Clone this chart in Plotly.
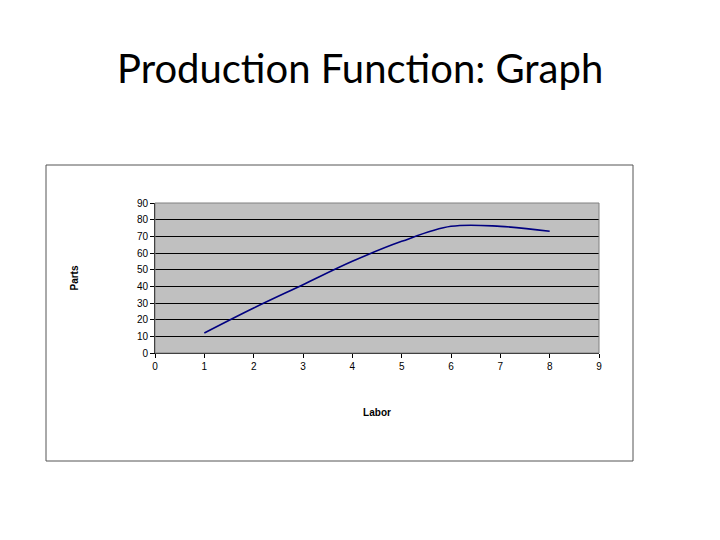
import plotly.graph_objects as go

# Production function data
labor = [1, 2, 3, 4, 5, 6, 7, 8]
parts = [12, 27, 41, 55, 67, 76, 76, 73]

TITLE = "Production Function: Graph"
X_LABEL = "Labor"
Y_LABEL = "Parts"

W, H = 720, 540
OFF = 8  # page body margin
# plot area in screen pixels
PX0, PX1, PY0, PY1 = 155, 599, 203, 353
# outer chart frame in screen pixels
BX0, BX1, BY0, BY1 = 46, 633, 165, 461


def px_to_paper_x(px):
    return (px - PX0) / (PX1 - PX0)


def px_to_paper_y(py):
    return (PY1 - py) / (PY1 - PY0)


fig = go.Figure(
    go.Scatter(
        x=labor,
        y=parts,
        mode="lines",
        line=dict(color="#000080", width=1.6, shape="spline", smoothing=1.0),
        hoverinfo="x+y",
    )
)

axis_font = dict(family="Arial, Liberation Sans", size=10, color="black")
label_font = dict(family="Arial, Liberation Sans", size=10, color="black")

fig.update_layout(
    width=W,
    height=H,
    margin=dict(l=PX0 - OFF, r=W - (PX1 - OFF), t=PY0 - OFF, b=H - (PY1 - OFF)),
    paper_bgcolor="white",
    plot_bgcolor="#C0C0C0",
    showlegend=False,
    xaxis=dict(
        range=[0, 9],
        dtick=1,
        showgrid=False,
        zeroline=False,
        showline=True,
        linecolor="black",
        linewidth=1,
        ticks="outside",
        ticklen=4,
        tickcolor="black",
        tickfont=axis_font,
        title=dict(text="<b>%s</b>" % X_LABEL, font=label_font, standoff=37),
    ),
    yaxis=dict(
        range=[0, 90],
        dtick=10,
        showgrid=True,
        gridcolor="black",
        gridwidth=1,
        zeroline=False,
        showline=True,
        linecolor="black",
        linewidth=1,
        ticks="outside",
        ticklen=4,
        tickcolor="black",
        tickfont=axis_font,
        title=dict(text="<b>%s</b>" % Y_LABEL, font=label_font, standoff=56),
    ),
    shapes=[
        dict(
            type="rect",
            xref="paper",
            yref="paper",
            x0=px_to_paper_x(BX0),
            x1=px_to_paper_x(BX1),
            y0=px_to_paper_y(BY1),
            y1=px_to_paper_y(BY0),
            line=dict(color="#555555", width=1),
            layer="below",
        ),
        dict(
            type="rect",
            xref="paper",
            yref="paper",
            x0=0,
            x1=1,
            y0=0,
            y1=1,
            line=dict(color="#808080", width=1),
        ),
    ],
    annotations=[
        dict(
            text=TITLE,
            xref="paper",
            yref="paper",
            x=px_to_paper_x(360),
            y=px_to_paper_y(68),
            xanchor="center",
            yanchor="middle",
            showarrow=False,
            font=dict(family="Lato, Open Sans", size=40, color="black"),
        )
    ],
)

fig.write_html("out.html")
